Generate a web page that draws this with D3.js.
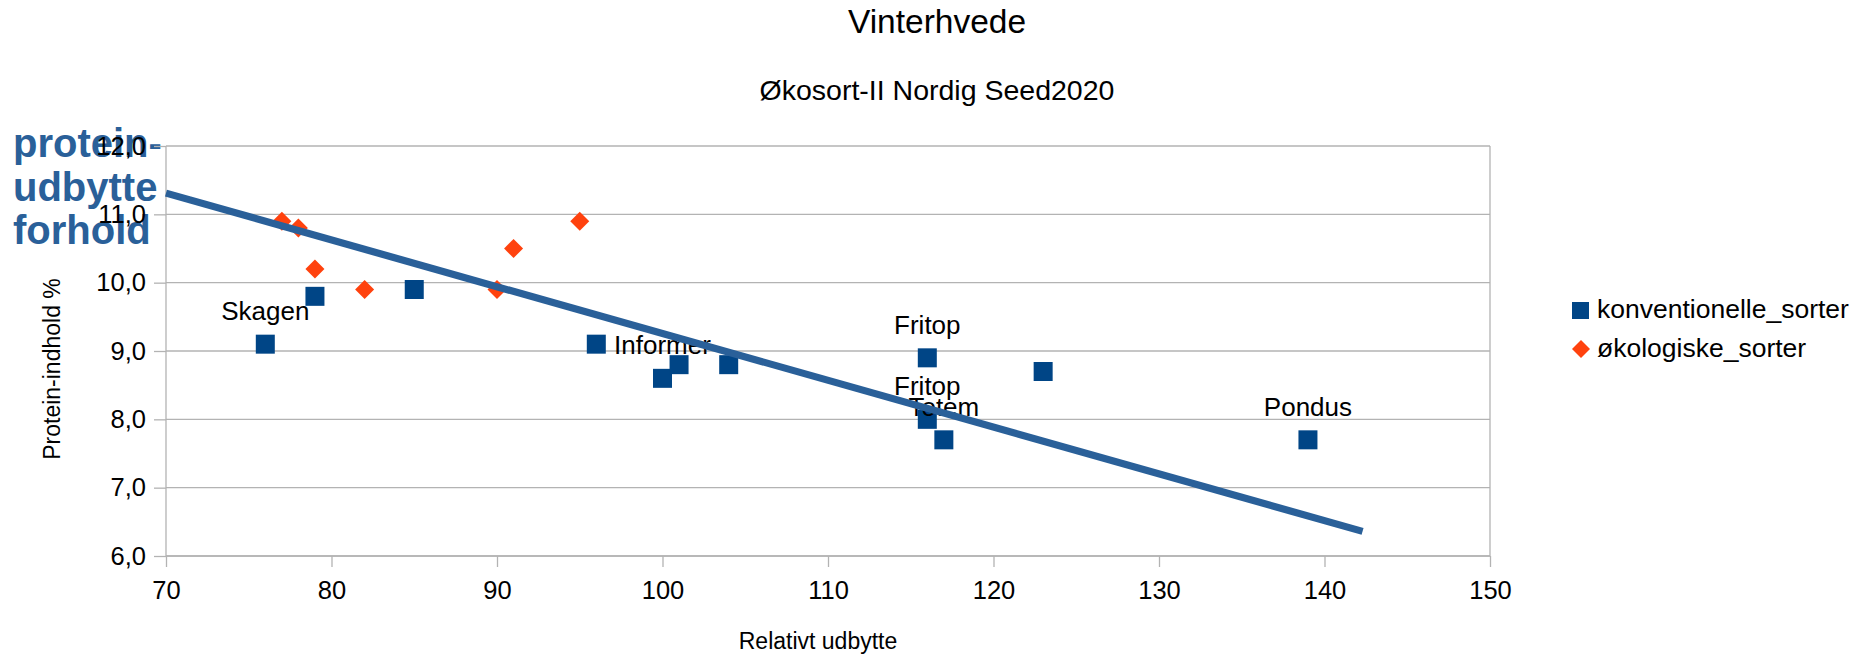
<!DOCTYPE html>
<html><head><meta charset="utf-8">
<script src="https://cdn.jsdelivr.net/npm/d3@7/dist/d3.min.js"></script>
<style>
html,body{margin:0;padding:0;background:#fff;}
text{font-family:"Liberation Sans",Arial,sans-serif;}
</style></head>
<body>
<svg id="chart" width="1875" height="655"></svg>
<script>
// ---- data ----
const titleText = "Vinterhvede";
const subtitleText = "Økosort-II Nordig Seed2020";
const xTitle = "Relativt udbytte";
const yTitle = "Protein-indhold %";
const seriesNames = ["konventionelle_sorter", "økologiske_sorter"];
const konvX = [76, 79, 85, 96, 100, 101, 104, 116, 116, 117, 123, 139];
const konvY = [9.1, 9.8, 9.9, 9.1, 8.6, 8.8, 8.8, 8.9, 8.0, 7.7, 8.7, 7.7];
const konvLabels = ["Skagen", "", "", "", "Informer", "", "", "Fritop", "Fritop", "Totem", "", "Pondus"];
const okoX = [77, 78, 79, 82, 90, 91, 95];
const okoY = [10.9, 10.8, 10.2, 9.9, 9.9, 10.5, 10.9];
const trendX = [70, 142.3];
const trendY = [11.31, 6.36];
const xTicks = [70, 80, 90, 100, 110, 120, 130, 140, 150];
const yTicks = [6, 7, 8, 9, 10, 11, 12];
const noteLines = ["protein-", "udbytte", "forhold"];

// ---- layout ----
const svg = d3.select("#chart");
const L = 166, R = 1490, T = 146, B = 556;
const x = d3.scaleLinear().domain([70, 150]).range([L, R]);
const y = d3.scaleLinear().domain([6, 12]).range([B, T]);
const fmt = d => d.toFixed(1).replace(".", ",");
const gridCol = "#b3b3b3";
const c1 = "#004586", c2 = "#ff420e", trendCol = "#2a6099";

// titles
svg.append("text").attr("x", 937).attr("y", 33).attr("text-anchor", "middle")
  .attr("font-size", 33.5).attr("fill", "#000").text(titleText);
svg.append("text").attr("x", 937).attr("y", 100).attr("text-anchor", "middle")
  .attr("font-size", 28.5).attr("fill", "#000").text(subtitleText);

// note text (behind axes)
svg.append("g").selectAll("text").data(noteLines).join("text")
  .attr("x", 13).attr("y", (d, i) => 157 + i * 43.5)
  .attr("font-size", 40).attr("font-weight", "bold").attr("fill", trendCol)
  .text(d => d);

// gridlines
svg.append("g").selectAll("line").data(yTicks).join("line")
  .attr("x1", L).attr("x2", R).attr("y1", d => y(d)).attr("y2", d => y(d))
  .attr("stroke", gridCol).attr("stroke-width", 1.3);
svg.append("line").attr("x1", R).attr("x2", R).attr("y1", T).attr("y2", B)
  .attr("stroke", gridCol).attr("stroke-width", 1.3);

// axes
const xAxis = d3.axisBottom(x).tickValues(xTicks).tickSize(11).tickPadding(14).tickFormat(d => d);
const gx = svg.append("g").attr("transform", `translate(0,${B})`).call(xAxis);
const yAxis = d3.axisLeft(y).tickValues(yTicks).tickSize(12).tickPadding(8).tickFormat(fmt);
const gy = svg.append("g").attr("transform", `translate(${L},0)`).call(yAxis);
[gx, gy].forEach(g => {
  g.select(".domain").attr("stroke", gridCol).attr("stroke-width", 1.3);
  g.selectAll(".tick line").attr("stroke", gridCol).attr("stroke-width", 1.3);
  g.selectAll(".tick text").attr("font-size", 25.5).attr("fill", "#000")
    .attr("font-family", "Liberation Sans, Arial, sans-serif");
});
gy.select(".domain").attr("d", `M0,${T}V${B}`);
gx.select(".domain").attr("d", `M${L},0H${R}`);

// axis titles
svg.append("text").attr("x", 818).attr("y", 649).attr("text-anchor", "middle")
  .attr("font-size", 23).attr("fill", "#000").text(xTitle);
svg.append("text").attr("transform", "translate(60,369) rotate(-90)")
  .attr("text-anchor", "middle").attr("font-size", 23).attr("fill", "#000").text(yTitle);

// points
const sq = 19;
const konv = konvX.map((v, i) => ({x: v, y: konvY[i], label: konvLabels[i]}));
const oko = okoX.map((v, i) => ({x: v, y: okoY[i]}));
svg.append("g").selectAll("rect").data(konv).join("rect")
  .attr("x", d => x(d.x) - sq / 2).attr("y", d => y(d.y) - sq / 2)
  .attr("width", sq).attr("height", sq).attr("fill", c1);
const dm = 9.5;
svg.append("g").selectAll("path").data(oko).join("path")
  .attr("d", d => `M${x(d.x)},${y(d.y) - dm}L${x(d.x) + dm},${y(d.y)}L${x(d.x)},${y(d.y) + dm}L${x(d.x) - dm},${y(d.y)}Z`)
  .attr("fill", c2);

// data labels
svg.append("g").selectAll("text").data(konv.filter(d => d.label)).join("text")
  .attr("x", d => x(d.x)).attr("y", d => y(d.y) - 24).attr("text-anchor", "middle")
  .attr("font-size", 26).attr("fill", "#000").text(d => d.label);

// trend line
svg.append("line")
  .attr("x1", x(trendX[0])).attr("y1", y(trendY[0]))
  .attr("x2", x(trendX[1])).attr("y2", y(trendY[1]))
  .attr("stroke", trendCol).attr("stroke-width", 7.2);

// legend
const lg = svg.append("g");
lg.append("rect").attr("x", 1572).attr("y", 302).attr("width", 17).attr("height", 17).attr("fill", c1);
lg.append("path").attr("d", "M1581,340L1590,349L1581,358L1572,349Z").attr("fill", c2);
lg.selectAll("text").data(seriesNames).join("text")
  .attr("x", 1597).attr("y", (d, i) => 318 + i * 38.5)
  .attr("font-size", 26.5).attr("fill", "#000").text(d => d);
</script>
</body></html>
